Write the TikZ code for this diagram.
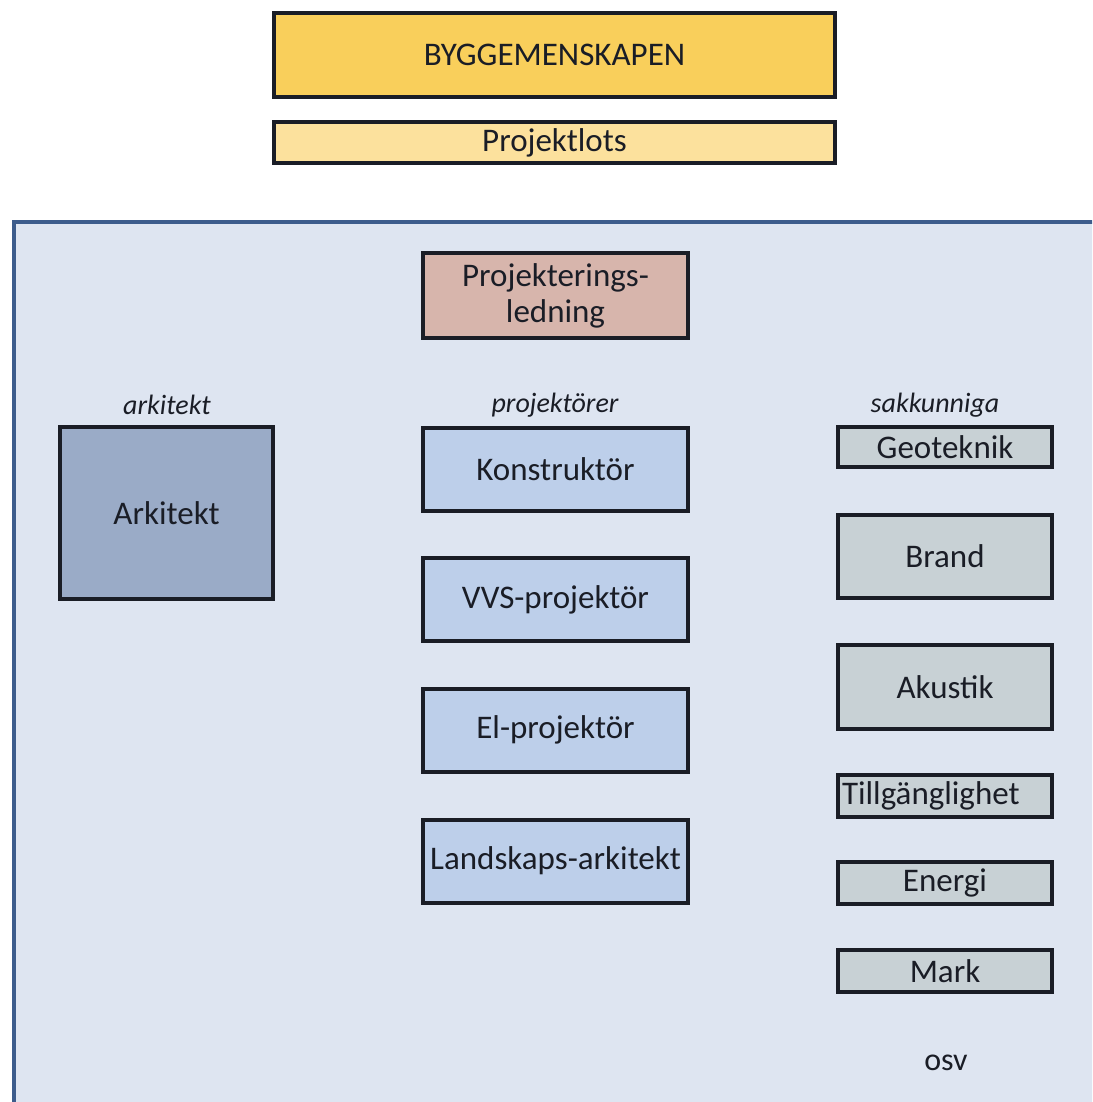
\documentclass[tikz,border=0pt]{standalone}
\usepackage{fontspec}
\setmainfont{Carlito}
\usepackage{xcolor}
\definecolor{BGpanel}{HTML}{DEE5F1}
\definecolor{BGedge}{HTML}{3D5C8C}
\definecolor{BGink}{HTML}{1A1D26}
\definecolor{BGgold}{HTML}{F9CF5B}
\definecolor{BGsand}{HTML}{FCE19D}
\definecolor{BGrose}{HTML}{D7B5AC}
\definecolor{BGslate}{HTML}{9AABC7}
\definecolor{BGsky}{HTML}{BDCFEA}
\definecolor{BGgrey}{HTML}{C8D1D5}
\usepackage{tikz}
\usetikzlibrary{positioning}

\tikzset{
  boks/.style={draw=BGink, line width=2pt, inner sep=0pt, text=BGink,
    font=\fontsize{16.5}{18}\selectfont, align=center},
  tag/.style={text=BGink, font=\fontsize{14}{16}\selectfont\itshape},
}

\begin{document}
\begin{tikzpicture}[x=0.5pt, y=-0.5pt]
    \useasboundingbox (0,0) rectangle (1092,1102);
    \clip (0,0) rectangle (1092,1102);
    \fill[white] (0,0) rectangle (1092,1102);
    % Top
    \node[boks, fill=BGgold, minimum width=280.5pt, minimum height=42pt]
      (bygg) at (554.5,55) {BYGGEMENSKAPEN};
    \node[boks, fill=BGsand, minimum width=280.5pt, minimum height=20.5pt]
      (lots) at (554.5,142.5) {Projektlots};
    % Panel
    \draw[BGedge, fill=BGpanel, line width=1.8pt] (14,222) rectangle (1140,1140);
    \node[boks, fill=BGrose, minimum width=132.5pt, minimum height=42.5pt]
      (ledning) at (555.5,295.5) {Projekterings-\\ledning};
    % Column heads
    \node[tag] (hark) at (167,405) {arkitekt};
    \node[tag] (hproj) at (555,405) {projektörer};
    \node[tag] (hsak) at (935,405) {sakkunniga};
    % Arkitekt
    \node[boks, fill=BGslate, minimum width=106.5pt, minimum height=86pt]
      (ark) at (166.5,513) {Arkitekt};
    % Projektörer
    \foreach \nm/\y/\txt in {kon/469.5/Konstruktör, vvs/599.5/VVS-projektör,
        el/730/El-projektör, land/861/Landskaps-arkitekt}
      \node[boks, fill=BGsky, minimum width=132.5pt, minimum height=41.5pt]
        (\nm) at (555.5,\y) {\txt};
    % Sakkunniga
    \foreach \nm/\y/\h/\txt in {geo/447/20/Geoteknik, brand/556.5/41.5/Brand,
        akustik/687/42/Akustik, energi/883/21/Energi, mark/971/21/Mark}
      \node[boks, fill=BGgrey, minimum width=107pt, minimum height=\h pt]
        (\nm) at (945,\y) {\txt};
    \node[boks, fill=BGgrey, minimum width=107pt, minimum height=21pt,
      text width=103pt, align=left, inner xsep=2pt]
      (till) at (945,796) {Tillgänglighet};
    \node[text=BGink, font=\fontsize{16}{18}\selectfont] (osv) at (946,1063) {osv};
  \end{tikzpicture}
\end{document}
